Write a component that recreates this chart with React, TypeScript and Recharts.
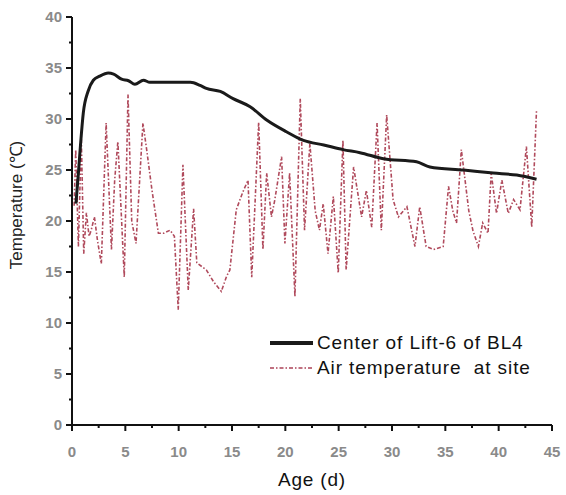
import { LineChart, Line, XAxis, YAxis } from 'recharts'

const centerAge = [0.37, 0.6, 0.8, 1.06, 1.5, 2.0, 2.6, 3.4, 3.9, 4.65, 5.3, 5.9, 6.7, 7.3, 9, 11.1, 12.0, 12.6, 13.9, 15.1, 16.7, 18.25, 20.1, 21.7, 23.6, 25.4, 27.0, 29.2, 32.3, 33.55, 36.7, 39.5, 41.7, 43.55]
const centerTemp = [21.7, 24.7, 27.5, 30.6, 32.7, 33.8, 34.2, 34.5, 34.4, 33.9, 33.75, 33.4, 33.8, 33.6, 33.6, 33.6, 33.3, 33.0, 32.7, 32.0, 31.2, 29.9, 28.75, 27.9, 27.45, 27.0, 26.7, 26.1, 25.8, 25.3, 25.0, 24.7, 24.5, 24.1]

const airAge = [0.2, 0.35, 0.6, 0.87, 1.1, 1.35, 1.6, 1.8, 2.1, 2.4, 2.75, 3.2, 3.7, 4.0, 4.3, 4.9, 5.25, 5.6, 6.0, 6.65, 7.0, 7.5, 8.1, 8.6, 9.2, 9.6, 9.96, 10.4, 10.9, 11.4, 11.7, 12.6, 13.3, 14.0, 14.5, 14.8, 15.4, 16.0, 16.5, 16.85, 17.5, 17.9, 18.25, 18.7, 19.0, 19.65, 19.96, 20.4, 20.9, 21.4, 21.8, 22.3, 22.8, 23.2, 23.55, 24.0, 24.5, 24.96, 25.4, 25.7, 26.4, 27.15, 27.6, 28.1, 28.6, 29.0, 29.5, 30.1, 30.6, 31.4, 32.15, 32.6, 33.2, 33.9, 34.8, 35.3, 35.7, 36.05, 36.5, 37.2, 37.6, 38.1, 38.5, 39.0, 39.3, 39.8, 40.3, 40.9, 41.4, 42.0, 42.6, 43.1, 43.55]
const airTemp = [21.5, 27.0, 17.5, 28.3, 16.8, 20.8, 18.5, 19.1, 20.4, 18.0, 15.8, 29.6, 17.2, 24, 27.8, 14.5, 32.4, 20, 17.8, 29.6, 27, 23, 18.8, 18.8, 19.1, 18.5, 11.3, 25.5, 13.2, 21.2, 15.9, 15.2, 14.0, 13.1, 14.6, 15.2, 21.1, 22.8, 24.0, 14.5, 29.7, 17.2, 24.7, 20.4, 22, 26.3, 17.8, 24.7, 12.6, 32.0, 19.1, 27.6, 21, 19.1, 21.7, 16.8, 22.4, 14.9, 27.9, 15.2, 25.3, 20.4, 23.0, 19.4, 29.6, 19.1, 30.4, 22.1, 20.4, 21.4, 17.5, 21.4, 17.5, 17.2, 17.5, 23.4, 21, 19.8, 27.0, 21, 19, 17.5, 19.8, 18.8, 24.7, 20.75, 24.0, 20.75, 22.1, 21.1, 27.3, 19.4, 30.9]

const xTicks = [0, 2.5, 5, 7.5, 10, 12.5, 15, 17.5, 20, 22.5, 25, 27.5, 30, 32.5, 35, 37.5, 40, 42.5, 45]
const yTicks = [0, 2.5, 5, 7.5, 10, 12.5, 15, 17.5, 20, 22.5, 25, 27.5, 30, 32.5, 35, 37.5, 40]

const centerData = centerAge.map((age, i) => ({ age, temp: centerTemp[i] }))
const airData = airAge.map((age, i) => ({ age, temp: airTemp[i] }))

const font = 'Liberation Sans, Arial, sans-serif'
const redDash = '4 2 1.5 2'

function XTick(props: any) {
  const { x, y, payload } = props
  const major = payload.value % 5 === 0
  return (
    <g>
      <line x1={x} y1={y} x2={x} y2={y + (major ? 6 : 3)} stroke="#111" strokeWidth={2} />
      {major ? (
        <text x={x} y={y + 32} textAnchor="middle" fontSize={15} fontWeight="bold" fill="#8a8a8a" fontFamily={font}>
          {payload.value}
        </text>
      ) : null}
    </g>
  )
}

function YTick(props: any) {
  const { x, y, payload } = props
  const major = payload.value % 5 === 0
  return (
    <g>
      <line x1={x} y1={y} x2={x - (major ? 6 : 3)} y2={y} stroke="#111" strokeWidth={2} />
      {major ? (
        <text x={x - 10} y={y + 5} textAnchor="end" fontSize={15} fontWeight="bold" fill="#8a8a8a" fontFamily={font}>
          {payload.value}
        </text>
      ) : null}
    </g>
  )
}

function LegendBox() {
  const rows = [
    { label: 'Center of Lift-6 of BL4', color: '#1a1a1a', width: 4, dash: undefined as string | undefined },
    { label: 'Air temperature  at site', color: '#c07080', width: 2, dash: redDash },
  ]
  return (
    <div style={{ position: 'absolute', left: 270, top: 330, fontFamily: font, fontSize: 19, color: '#111', letterSpacing: 0.9 }}>
      {rows.map((r) => (
        <div key={r.label} style={{ display: 'flex', alignItems: 'center', height: 25, whiteSpace: 'pre' }}>
          <svg width={46} height={10} style={{ marginRight: 1 }}>
            <line x1={0} y1={5} x2={43} y2={5} stroke={r.color} strokeWidth={r.width} strokeDasharray={r.dash} />
          </svg>
          <span>{r.label}</span>
        </div>
      ))}
    </div>
  )
}

export default function App() {
  return (
    <div style={{ position: 'absolute', left: 0, top: 0, width: 566, height: 495, background: '#fff' }}>
      <LineChart width={566} height={495} margin={{ top: 17, right: 14, bottom: 40, left: 12 }}>
        <XAxis
          dataKey="age"
          type="number"
          domain={[0, 45]}
          ticks={xTicks}
          interval={0}
          height={30}
          tickSize={0}
          tickMargin={0}
          tickLine={false}
          axisLine={{ stroke: '#111', strokeWidth: 2 }}
          tick={<XTick />}
          allowDuplicatedCategory={false}
          label={{ value: 'Age (d)', position: 'bottom', offset: 18, fontSize: 19, fill: '#111', fontFamily: font, letterSpacing: 0.8 }}
        />
        <YAxis
          type="number"
          domain={[0, 40]}
          ticks={yTicks}
          interval={0}
          width={60}
          tickSize={0}
          tickMargin={0}
          tickLine={false}
          axisLine={{ stroke: '#111', strokeWidth: 2 }}
          tick={<YTick />}
          label={{ value: 'Temperature (℃)', angle: -90, position: 'insideLeft', offset: 4, dy: -16, fontSize: 17, fill: '#222', fontFamily: font, style: { textAnchor: 'middle' } }}
        />
        <Line
          data={airData}
          dataKey="temp"
          name="Air temperature at site"
          type="linear"
          stroke="#b04a5c"
          strokeWidth={1.6}
          strokeDasharray={redDash}
          dot={false}
          isAnimationActive={false}
        />
        <Line
          data={centerData}
          dataKey="temp"
          name="Center of Lift-6 of BL4"
          type="monotone"
          stroke="#1a1a1a"
          strokeWidth={3}
          dot={false}
          isAnimationActive={false}
        />
      </LineChart>
      <LegendBox />
    </div>
  )
}
